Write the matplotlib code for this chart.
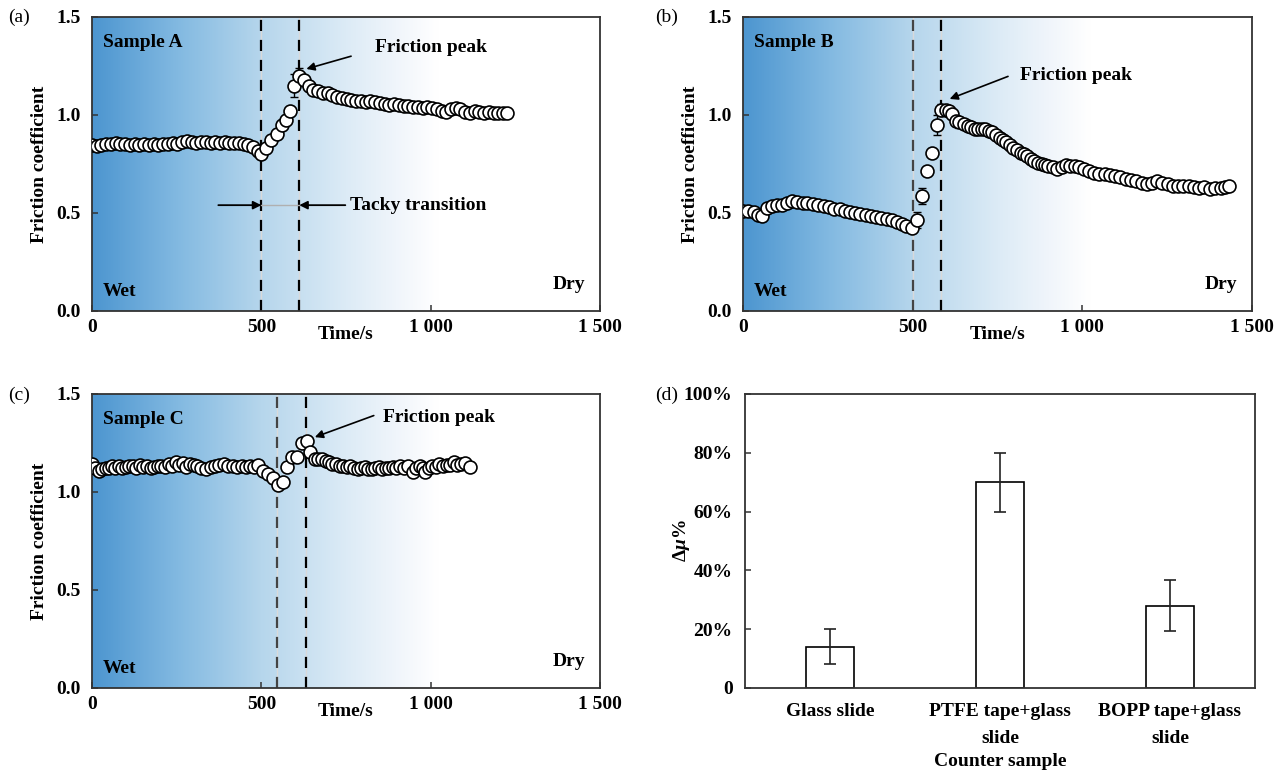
import numpy as np
import matplotlib
matplotlib.use("Agg")
import matplotlib.pyplot as plt
from matplotlib.colors import LinearSegmentedColormap

plt.rcParams['font.family'] = ['Liberation Serif', 'DejaVu Serif']
plt.rcParams['font.weight'] = 'bold'
plt.rcParams['mathtext.fontset'] = 'custom'
plt.rcParams['mathtext.rm'] = 'Liberation Serif:bold'
plt.rcParams['mathtext.it'] = 'Liberation Serif:bold:italic'
plt.rcParams['mathtext.bf'] = 'Liberation Serif:bold'
plt.rcParams['mathtext.bfit'] = 'Liberation Serif:bold:italic'

# ---------------- data ----------------
tA = [0, 14, 28, 42, 56, 70, 84, 98, 112, 126, 140, 154, 168, 182, 196, 210, 224, 238, 252, 266,
      280, 294, 308, 322, 336, 350, 364, 378, 392, 406, 420, 434, 448, 462, 476, 490, 500, 515, 530,
      545, 560, 572, 585, 597, 612, 626, 640, 654, 668, 682, 696, 710, 724, 738, 752, 766, 780, 794,
      808, 822, 836, 850, 864, 878, 892, 906, 920, 934, 948, 962, 976, 990, 1004, 1018, 1032, 1046,
      1060, 1074, 1088, 1102, 1116, 1130, 1144, 1158, 1172, 1186, 1200, 1214, 1225]
muA = [0.845, 0.84, 0.845, 0.85, 0.85, 0.855, 0.85, 0.85, 0.848, 0.85, 0.848, 0.85, 0.845, 0.85,
       0.848, 0.85, 0.852, 0.855, 0.85, 0.86, 0.865, 0.86, 0.858, 0.86, 0.862, 0.858, 0.86, 0.855,
       0.86, 0.858, 0.855, 0.858, 0.852, 0.845, 0.835, 0.815, 0.80, 0.83, 0.87, 0.905, 0.95, 0.975,
       1.02, 1.15, 1.20, 1.18, 1.15, 1.13, 1.12, 1.11, 1.11, 1.10, 1.09, 1.085, 1.08, 1.075, 1.07,
       1.07, 1.065, 1.07, 1.068, 1.06, 1.055, 1.05, 1.055, 1.05, 1.045, 1.045, 1.04, 1.04, 1.035,
       1.04, 1.035, 1.03, 1.02, 1.015, 1.03, 1.035, 1.03, 1.015, 1.01, 1.02, 1.015, 1.01, 1.015,
       1.012, 1.01, 1.012, 1.01]
errA_t = [597, 612]
errA_v = [1.15, 1.20]
errA_e = [0.057, 0.042]

tB = [0, 15, 31, 45, 57, 72, 85, 100, 114, 130, 145, 160, 176, 190, 207, 222, 238, 253, 269, 285,
      300, 315, 331, 346, 362, 377, 393, 408, 424, 440, 455, 468, 481, 497, 514, 528, 541, 557, 571,
      583, 598, 608, 616, 627, 637, 652, 664, 673, 683, 693, 704, 714, 725, 735, 746, 756, 766, 776,
      787, 797, 808, 818, 828, 838, 849, 859, 870, 880, 890, 900, 913, 926, 939, 952, 965, 978, 991,
      1004, 1020, 1035, 1050, 1066, 1081, 1097, 1112, 1128, 1143, 1159, 1175, 1190, 1205, 1221, 1236,
      1252, 1267, 1283, 1298, 1314, 1330, 1345, 1360, 1376, 1392, 1408, 1420, 1433]
muB = [0.512, 0.51, 0.505, 0.49, 0.483, 0.525, 0.535, 0.54, 0.543, 0.55, 0.56, 0.555, 0.551, 0.55,
       0.548, 0.54, 0.534, 0.53, 0.522, 0.518, 0.512, 0.505, 0.50, 0.495, 0.49, 0.485, 0.48, 0.475,
       0.471, 0.465, 0.454, 0.445, 0.432, 0.423, 0.466, 0.586, 0.714, 0.808, 0.95, 1.026, 1.026,
       1.02, 1.005, 0.97, 0.962, 0.954, 0.945, 0.937, 0.93, 0.928, 0.93, 0.928, 0.92, 0.911, 0.90,
       0.885, 0.872, 0.86, 0.848, 0.834, 0.82, 0.808, 0.80, 0.79, 0.778, 0.765, 0.755, 0.748, 0.745,
       0.74, 0.735, 0.723, 0.735, 0.745, 0.742, 0.74, 0.735, 0.723, 0.715, 0.706, 0.70, 0.697, 0.693,
       0.688, 0.682, 0.676, 0.67, 0.663, 0.655, 0.65, 0.655, 0.663, 0.652, 0.646, 0.64, 0.637, 0.64,
       0.637, 0.632, 0.628, 0.635, 0.62, 0.63, 0.628, 0.633, 0.637]
errB_t = [57, 514, 528, 571, 583, 637]
errB_v = [0.483, 0.466, 0.586, 0.95, 1.026, 0.962]
errB_e = [0.025, 0.04, 0.04, 0.05, 0.03, 0.03]

tC = [0, 10, 21, 30, 40, 50, 58, 68, 79, 90, 100, 110, 121, 131, 142, 152, 163, 173, 184, 194, 205,
      215, 226, 236, 247, 257, 268, 278, 289, 300, 310, 323, 337, 350, 363, 376, 389, 402, 416, 429,
      442, 455, 468, 479, 489, 505, 521, 535, 549, 564, 575, 590, 605, 620, 634, 645, 658, 668, 679,
      690, 700, 710, 721, 731, 742, 752, 763, 773, 784, 794, 805, 815, 826, 836, 847, 857, 868, 878,
      889, 899, 910, 920, 932, 947, 958, 968, 976, 984, 995, 1005, 1016, 1026, 1037, 1047, 1058, 1068,
      1079, 1089, 1102, 1116]
muC = [1.143, 1.12, 1.105, 1.115, 1.12, 1.125, 1.131, 1.12, 1.131, 1.125, 1.126, 1.135, 1.134,
       1.125, 1.138, 1.13, 1.131, 1.12, 1.126, 1.135, 1.134, 1.128, 1.143, 1.135, 1.155, 1.14, 1.148,
       1.13, 1.143, 1.138, 1.131, 1.125, 1.117, 1.128, 1.131, 1.14, 1.143, 1.135, 1.131, 1.128, 1.134,
       1.13, 1.134, 1.13, 1.138, 1.109, 1.091, 1.07, 1.036, 1.05, 1.13, 1.18, 1.18, 1.25, 1.26,
       1.204, 1.169, 1.17, 1.169, 1.16, 1.152, 1.145, 1.143, 1.135, 1.131, 1.128, 1.134, 1.12, 1.117,
       1.12, 1.126, 1.115, 1.117, 1.12, 1.126, 1.118, 1.121, 1.125, 1.126, 1.12, 1.131, 1.125, 1.131,
       1.103, 1.125, 1.134, 1.12, 1.103, 1.125, 1.134, 1.13, 1.143, 1.135, 1.138, 1.14, 1.155, 1.14,
       1.143, 1.15, 1.126]

counter_samples = ['Glass slide', 'PTFE tape+glass\nslide', 'BOPP tape+glass\nslide']
delta_mu = [14.0, 70.0, 28.0]
delta_mu_err = [6.0, 10.0, 8.7]

x_ticks = [0, 500, 1000, 1500]
x_ticklabels = ['0', '500', '1 000', '1 500']
y_ticks = [0.0, 0.5, 1.0, 1.5]
y_ticklabels = ['0.0', '0.5', '1.0', '1.5']
d_yticks = [0, 20, 40, 60, 80, 100]
d_yticklabels = ['0', '20%', '40%', '60%', '80%', '100%']

# ---------------- style ----------------
FS = 14
bg_cmap = LinearSegmentedColormap.from_list(
    'bg', [(0.0, '#4d96d0'), (0.167, '#82b9e1'), (0.333, '#b6d6ec'), (0.5, '#dcebf6'),
           (0.6, '#f0f5fb'), (0.68, '#ffffff'), (1.0, '#ffffff')])

W, H = 1285, 777
fig = plt.figure(figsize=(W / 100, H / 100), dpi=100)


def box(l, r, t, b):
    return [l / W, 1 - b / H, (r - l) / W, (b - t) / H]


axA = fig.add_axes(box(92, 600, 17, 311))
axB = fig.add_axes(box(743, 1252, 17, 311))
axC = fig.add_axes(box(92, 600, 394, 688))
axD = fig.add_axes(box(745, 1255, 394, 688))


def style_frame(ax):
    for s in ax.spines.values():
        s.set_linewidth(1.3)
        s.set_color('#333333')
    ax.tick_params(direction='in', length=4, width=1.1, labelsize=FS, color='#333333')


def friction_panel(ax, t, mu, et, ev, ee, dashes, dash_colors, name, peak_txt, peak_tail, peak_head):
    grad = np.linspace(0, 1, 600).reshape(1, -1)
    ax.imshow(grad, extent=[0, 1500, 0, 1.5], aspect='auto', cmap=bg_cmap, zorder=0,
              interpolation='bicubic')
    for xd, c in zip(dashes, dash_colors):
        ax.axvline(xd, color='#d9d9d9', lw=1.0, zorder=1)
        ax.axvline(xd, color=c, lw=1.6, ls=(0, (5, 4)), zorder=2)
    if et:
        ax.errorbar(et, ev, yerr=ee, fmt='none', ecolor='black', elinewidth=1.0, capsize=3,
                    capthick=1.0, zorder=3)
    ax.plot(t, mu, 'o', ms=9.3, mfc='white', mec='black', mew=1.2, zorder=4)
    ax.set_xlim(0, 1500)
    ax.set_ylim(0, 1.5)
    ax.set_xticks(x_ticks)
    ax.set_xticklabels(x_ticklabels, fontweight='bold')
    ax.set_yticks(y_ticks)
    ax.set_yticklabels(y_ticklabels, fontweight='bold')
    ax.tick_params(axis='x', pad=6)
    ax.tick_params(axis='y', pad=8)
    style_frame(ax)
    ax.set_xlabel('Time/s', fontsize=FS, fontweight='bold')
    ax.xaxis.set_label_coords(0.5, -0.052)
    ax.set_ylabel('Friction coefficient', fontsize=FS, fontweight='bold')
    ax.yaxis.set_label_coords(-0.087, 0.5)
    ax.text(32, 1.372, name, fontsize=FS, fontweight='bold', va='center', ha='left', zorder=5)
    ax.text(32, 0.097, 'Wet', fontsize=FS, fontweight='bold', va='center', ha='left', zorder=5)
    ax.text(1456, 0.133, 'Dry', fontsize=FS, fontweight='bold', va='center', ha='right', zorder=5)
    ax.text(peak_txt[0], peak_txt[1], 'Friction peak', fontsize=FS, fontweight='bold',
            va='center', ha='left', zorder=5)
    ax.annotate('', xy=peak_head, xytext=peak_tail,
                arrowprops=dict(arrowstyle='-|>', color='black', lw=1.2, mutation_scale=12,
                                shrinkA=0, shrinkB=0), zorder=5)


friction_panel(axA, tA, muA, errA_t, errA_v, errA_e, [500, 612], ['black', 'black'], 'Sample A',
               (837, 1.342), (765, 1.30), (633, 1.235))
friction_panel(axB, tB, muB, errB_t, errB_v, errB_e, [500, 583], ['#444444', 'black'], 'Sample B',
               (816, 1.204), (781, 1.197), (609, 1.082))
friction_panel(axC, tC, muC, [], [], [], [546, 632], ['#444444', 'black'], 'Sample C',
               (859, 1.378), (832, 1.39), (658, 1.28))

# tacky transition annotation
axA.plot([500, 612], [0.54, 0.54], color='#b0b0b0', lw=1.0, zorder=3)
arr = dict(arrowstyle='-|>', color='black', lw=1.3, mutation_scale=12, shrinkA=0, shrinkB=0)
axA.annotate('', xy=(500, 0.54), xytext=(373, 0.54), arrowprops=arr, zorder=5)
axA.annotate('', xy=(612, 0.54), xytext=(748, 0.54), arrowprops=arr, zorder=5)
axA.text(763, 0.54, 'Tacky transition', fontsize=FS, fontweight='bold', va='center', ha='left')

# panel (d)
xpos = np.arange(len(counter_samples)) + 0.5
axD.bar(xpos, delta_mu, width=0.285, color='white', edgecolor='black', linewidth=1.2, zorder=2)
axD.errorbar(xpos, delta_mu, yerr=delta_mu_err, fmt='none', ecolor='#222222', elinewidth=1.2,
             capsize=4, capthick=1.2, zorder=3)
axD.set_xlim(0, 3)
axD.set_ylim(0, 100)
axD.set_xticks(xpos)
axD.set_xticklabels(counter_samples, fontweight='bold', linespacing=1.75)
axD.set_yticks(d_yticks)
axD.set_yticklabels(d_yticklabels, fontweight='bold')
style_frame(axD)
axD.tick_params(axis='x', length=0, pad=11)
axD.tick_params(axis='y', pad=9)
axD.set_xlabel('Counter sample', fontsize=FS, fontweight='bold')
axD.xaxis.set_label_coords(0.5, -0.22)
axD.set_ylabel(r'Δ$\mathbfit{\mu}$%', fontsize=FS, fontweight='bold')
axD.yaxis.set_label_coords(-0.104, 0.5)

# panel letters
for lbl, x, y in [('(a)', 8, 17), ('(b)', 655, 17), ('(c)', 8, 395), ('(d)', 655, 395)]:
    fig.text(x / W, 1 - y / H, lbl, fontsize=FS, fontweight='normal', ha='left', va='center')

fig.savefig('out.png', dpi=100)
